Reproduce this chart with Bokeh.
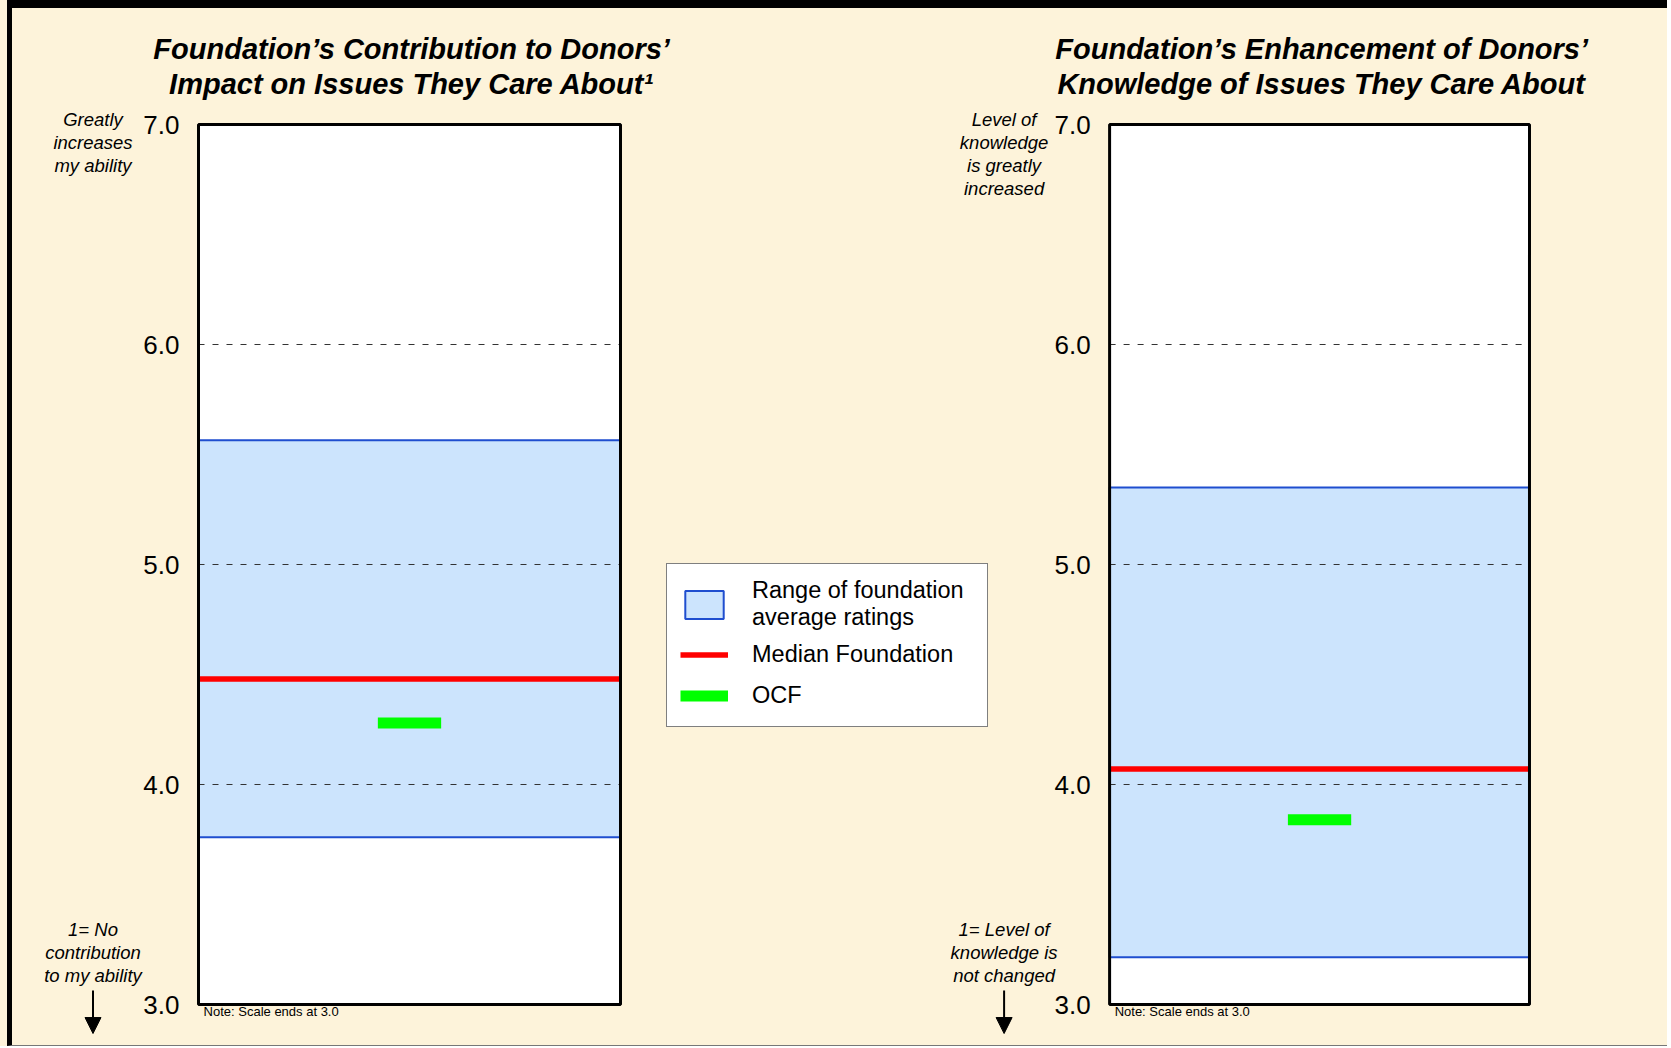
from bokeh.plotting import figure
from bokeh.layouts import row
from bokeh.models import (Range1d, FixedTicker, PrintfTickFormatter, Label, Arrow,
                          NormalHead, Legend, LegendItem, LinearAxis)
from bokeh.embed import file_html
from bokeh.resources import INLINE

# ---------------- data ----------------
titles = ["Foundation\u2019s Contribution to Donors\u2019\nImpact on Issues They Care About\u00b9",
          "Foundation\u2019s Enhancement of Donors\u2019\nKnowledge of Issues They Care About"]
top_notes = ["Greatly\nincreases\nmy ability",
             "Level of\nknowledge\nis greatly\nincreased"]
bottom_notes = ["1= No\ncontribution\nto my ability",
                "1= Level of\nknowledge is\nnot changed"]
scale_note = "Note: Scale ends at 3.0"
range_low = [3.76, 3.215]
range_high = [5.565, 5.35]
median_foundation = [4.48, 4.07]
ocf = [4.28, 3.84]
y_ticks = [3, 4, 5, 6, 7]
legend_labels = ["Range of foundation\naverage ratings", "Median Foundation", "OCF"]

# ---------------- layout / style ----------------
CREAM = "#FDF3DA"
FILL_BLUE = "#CCE4FD"
LINE_BLUE = "#1F4ECF"
RED = "#FF0000"
GREEN = "#00FF00"
FONT = "Liberation Sans"
W, H = 1655, 1037
PX_PER_X = 422.0
PX_PER_Y = 220.0
LEFT_OFFSET = 186.0
panel_x = [0.0, 2.159]          # left edge of each plot box (x units)
panel_w = [1.0, 0.995]          # width of each plot box (x units)
y_lo, y_hi = y_ticks[0], y_ticks[-1]
y_top = y_hi + 116 / PX_PER_Y
y_bottom = y_lo - (H - 116 - 880) / PX_PER_Y

p = figure(width=W, height=H,
           x_range=Range1d(-LEFT_OFFSET / PX_PER_X, (W - LEFT_OFFSET) / PX_PER_X),
           y_range=Range1d(y_bottom, y_top),
           x_axis_type=None, y_axis_type=None, title=None,
           output_backend="svg", toolbar_location=None, min_border=0)
p.background_fill_color = CREAM
p.border_fill_color = CREAM
p.outline_line_color = None

grid_vals = y_ticks[1:-1]
legend_renderers = None

for i, x0 in enumerate(panel_x):
    w = panel_w[i]
    x1 = x0 + w
    xc = x0 + w / 2
    # plot box background
    p.quad(left=[x0], right=[x1], bottom=[y_lo], top=[y_hi],
           fill_color="white", line_color=None)
    # range of foundation averages
    r_range = p.quad(left=[x0], right=[x1], bottom=[range_low[i]], top=[range_high[i]],
                     fill_color=FILL_BLUE, line_color=LINE_BLUE, line_width=2)
    # dashed gridlines
    p.segment(x0=[x0] * len(grid_vals), x1=[x1] * len(grid_vals),
              y0=grid_vals, y1=grid_vals,
              line_color="#333333", line_width=1, line_dash="6 8")
    # median foundation
    r_med = p.segment(x0=[x0], x1=[x1], y0=[median_foundation[i]], y1=[median_foundation[i]],
                      line_color=RED, line_width=5.5)
    # OCF
    r_ocf = p.segment(x0=[xc - 0.075], x1=[xc + 0.075], y0=[ocf[i]], y1=[ocf[i]],
                      line_color=GREEN, line_width=11)
    # plot box outline
    p.quad(left=[x0], right=[x1], bottom=[y_lo], top=[y_hi],
           fill_color=None, line_color="black", line_width=3)
    if legend_renderers is None:
        legend_renderers = [r_range, r_med, r_ocf]

    # y axis at the box edge
    ax = LinearAxis(fixed_location=x0, bounds=(y_lo, y_hi))
    ax.ticker = FixedTicker(ticks=y_ticks)
    ax.formatter = PrintfTickFormatter(format="%.1f")
    ax.axis_line_color = None
    ax.major_tick_line_color = None
    ax.minor_tick_line_color = None
    ax.major_tick_out = 0
    ax.major_tick_in = 0
    ax.major_label_standoff = 19
    ax.major_label_text_font = FONT
    ax.major_label_text_font_size = "26px"
    ax.major_label_text_color = "black"
    p.add_layout(ax, "left")

    # titles
    p.add_layout(Label(x=xc + 0.005, y=7.418, text=titles[i], text_align="center",
                       text_baseline="top", text_font=FONT, text_font_style="bold italic",
                       text_font_size="29px", text_line_height=1.1, text_color="black"))
    # scale notes
    nx = x0 - 0.25
    p.add_layout(Label(x=nx, y=7.07, text=top_notes[i], text_align="center",
                       text_baseline="top", text_font=FONT, text_font_style="italic",
                       text_font_size="18.5px", text_line_height=1.1, text_color="black"))
    p.add_layout(Label(x=nx, y=3.39, text=bottom_notes[i], text_align="center",
                       text_baseline="top", text_font=FONT, text_font_style="italic",
                       text_font_size="18.5px", text_line_height=1.1, text_color="black"))
    p.add_layout(Arrow(x_start=nx, y_start=3.064, x_end=nx, y_end=2.868,
                       line_color="black", line_width=2,
                       end=NormalHead(size=16, fill_color="black", line_color="black")))
    p.add_layout(Label(x=x0 + 0.012, y=2.968, text=scale_note, text_align="left",
                       text_baseline="middle", text_font=FONT, text_font_size="13px",
                       text_color="black"))

legend = Legend(items=[LegendItem(label=legend_labels[k], renderers=[legend_renderers[k]])
                       for k in range(3)],
                location=(654, 318), margin=0, padding=13, spacing=6,
                glyph_width=48, glyph_height=35, label_standoff=24, label_width=222,
                label_text_font=FONT, label_text_font_size="23.5px",
                label_text_line_height=1.2, label_text_color="black",
                border_line_color="black", border_line_width=1.5,
                background_fill_color="white", background_fill_alpha=1.0)
p.add_layout(legend)

layout = row(p, styles={
    "border-top": "8px solid black",
    "border-left": "5px solid black",
    "border-bottom": "1px solid #777777",
    "margin-left": "7px",
    "box-shadow": "-7px 0 0 0 " + CREAM,
    "background-color": CREAM,
})

open("out.html", "w").write(file_html(layout, INLINE))
